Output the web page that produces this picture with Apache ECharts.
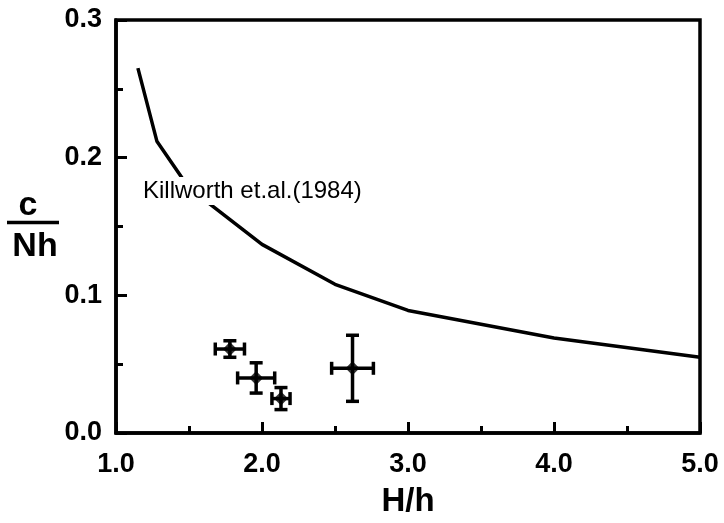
<!DOCTYPE html>
<html>
<head>
<meta charset="utf-8">
<script src="https://cdn.jsdelivr.net/npm/echarts@6/dist/echarts.min.js"></script>
<style>html,body{margin:0;padding:0;background:#fff;}#c{width:724px;height:523px;}</style>
</head>
<body>
<div id="c"></div>
<script>
// Killworth et al. (1984) theoretical curve
const curveX = [1.15, 1.28, 1.5, 2.0, 2.5, 3.0, 4.0, 5.0];
const curveY = [0.265, 0.212, 0.178, 0.137, 0.108, 0.089, 0.069, 0.055];
// Measured points with error bars
const obsX = [1.78, 1.96, 2.13, 2.62];
const obsY = [0.061, 0.040, 0.025, 0.047];
const obsXErr = [0.10, 0.127, 0.062, 0.143];
const obsYErr = [0.006, 0.011, 0.008, 0.024];
const xTicks = [1.0, 2.0, 3.0, 4.0, 5.0];
const yTicks = [0.0, 0.1, 0.2, 0.3];
const curveLabel = 'Killworth et.al.(1984)';

const FONT = '"Liberation Sans", Arial, sans-serif';
const chart = echarts.init(document.getElementById('c'), null, {renderer: 'canvas'});

const curveData = curveX.map((x, i) => [x, curveY[i]]);
const obsData = obsX.map((x, i) => [x, obsY[i], obsXErr[i], obsYErr[i]]);

chart.setOption({
  animation: false,
  backgroundColor: '#fff',
  grid: {left: 116, right: 24, top: 20, bottom: 90, show: true, borderColor: '#000', borderWidth: 3.5, backgroundColor: 'transparent'},
  xAxis: {
    type: 'value', min: xTicks[0], max: xTicks[xTicks.length - 1], interval: 1,
    axisLine: {lineStyle: {color: '#000', width: 3.5}},
    axisTick: {inside: true, length: 11, lineStyle: {color: '#000', width: 3}},
    minorTick: {show: true, splitNumber: 2, length: 7, lineStyle: {color: '#000', width: 3}},
    splitLine: {show: false},
    axisLabel: {color: '#000', fontFamily: FONT, fontSize: 27, fontWeight: 'bold', margin: 18, formatter: v => v.toFixed(1)},
    name: 'H/h', nameLocation: 'middle', nameGap: 52,
    nameTextStyle: {color: '#000', fontFamily: FONT, fontSize: 33, fontWeight: 'bold'}
  },
  yAxis: {
    type: 'value', min: yTicks[0], max: yTicks[yTicks.length - 1], interval: 0.1,
    axisLine: {lineStyle: {color: '#000', width: 3.5}},
    axisTick: {inside: true, length: 11, lineStyle: {color: '#000', width: 3}},
    minorTick: {show: true, splitNumber: 2, length: 7, lineStyle: {color: '#000', width: 3}},
    splitLine: {show: false},
    axisLabel: {color: '#000', fontFamily: FONT, fontSize: 27, fontWeight: 'bold', margin: 14, formatter: v => v.toFixed(1)}
  },
  series: [
    {
      type: 'line', data: curveData, symbol: 'none', z: 2,
      lineStyle: {color: '#000', width: 3.5}
    },
    {
      type: 'custom', z: 3,
      data: obsData,
      renderItem: function (params, api) {
        const x = api.value(0), y = api.value(1), ex = api.value(2), ey = api.value(3);
        const l = api.coord([x - ex, y]), r = api.coord([x + ex, y]);
        const b = api.coord([x, y - ey]), t = api.coord([x, y + ey]);
        const cap = 6.5;
        const st = {stroke: '#000', lineWidth: 3.5};
        return {
          type: 'group',
          children: [
            {type: 'line', shape: {x1: l[0], y1: l[1], x2: r[0], y2: r[1]}, style: st},
            {type: 'line', shape: {x1: l[0], y1: l[1] - cap, x2: l[0], y2: l[1] + cap}, style: st},
            {type: 'line', shape: {x1: r[0], y1: r[1] - cap, x2: r[0], y2: r[1] + cap}, style: st},
            {type: 'line', shape: {x1: b[0], y1: b[1], x2: t[0], y2: t[1]}, style: st},
            {type: 'line', shape: {x1: b[0] - cap, y1: b[1], x2: b[0] + cap, y2: b[1]}, style: st},
            {type: 'line', shape: {x1: t[0] - cap, y1: t[1], x2: t[0] + cap, y2: t[1]}, style: st}
          ]
        };
      }
    },
    {
      type: 'scatter', data: obsData.map(d => [d[0], d[1]]), symbol: 'diamond', symbolSize: 14, z: 4,
      itemStyle: {color: '#000'}
    }
  ],
  graphic: [
    {type: 'text', left: 140, top: 177, z: 10,
      style: {text: curveLabel, fill: '#000', font: '24px ' + FONT, backgroundColor: '#fff', padding: [2, 3]}},
    {type: 'text', x: 28, y: 206, z: 10,
      style: {text: 'c', fill: '#000', font: 'bold 34px ' + FONT, align: 'center', verticalAlign: 'middle'}},
    {type: 'line', z: 10, shape: {x1: 7, y1: 222.5, x2: 59, y2: 222.5}, style: {stroke: '#000', lineWidth: 3.5}},
    {type: 'text', x: 35, y: 247, z: 10,
      style: {text: 'Nh', fill: '#000', font: 'bold 34px ' + FONT, align: 'center', verticalAlign: 'middle'}}
  ]
});
</script>
</body>
</html>
